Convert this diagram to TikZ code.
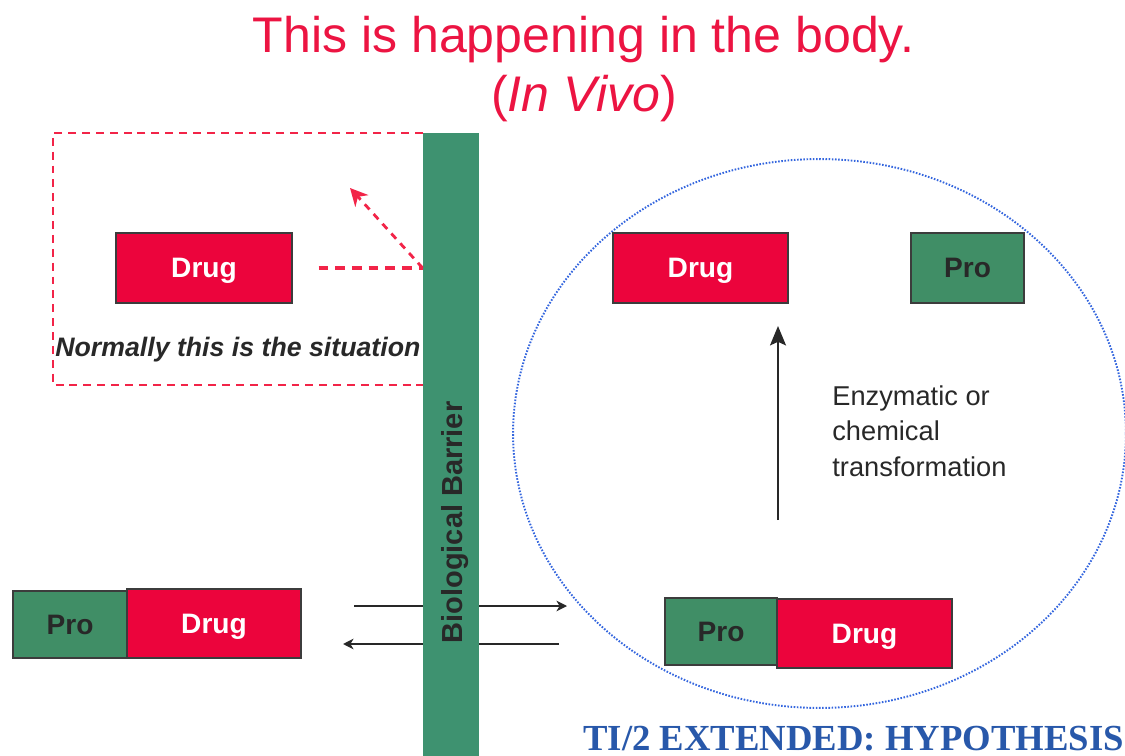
\documentclass[tikz,border=0pt]{standalone}
\usepackage{fontspec}
\setmainfont{Liberation Sans}
\newfontfamily\titleserif{Liberation Serif}
\usetikzlibrary{arrows.meta}
\definecolor{boxred}{RGB}{236,4,60}
\definecolor{titlered}{RGB}{236,20,66}
\definecolor{dashred}{RGB}{242,36,72}
\definecolor{bargreen}{RGB}{62,146,112}
\definecolor{progreen}{RGB}{64,142,102}
\definecolor{boxline}{RGB}{60,60,60}
\definecolor{darktext}{RGB}{40,40,40}
\definecolor{dotblue}{RGB}{52,102,222}
\definecolor{hypblue}{RGB}{40,88,170}
\begin{document}
\begin{tikzpicture}[x=0.02cm,y=-0.02cm,
  box/.style={draw=boxline, line width=0.8pt, inner sep=0pt, text depth=0pt,
    font=\fontsize{16}{19}\selectfont\bfseries},
  drugbox/.style={box, fill=boxred, text=white},
  probox/.style={box, fill=progreen, text=darktext},
  regiondash/.style={draw=dashred, line width=1.1pt, dash pattern=on 4.5pt off 3.4pt},
  bounce/.style={draw=dashred, line width=2.2pt, dash pattern=on 5.5pt off 4pt},
  bounceArrow/.style={draw=dashred, line width=1.6pt, dash pattern=on 4pt off 3.5pt,
    -{Stealth[length=10pt,width=10pt]}},
  flow/.style={draw=darktext, line width=1pt, -{Stealth[length=6pt,width=6pt,inset=1.8pt]}},
  convert/.style={draw=darktext, line width=1.4pt, -{Stealth[length=11pt,width=9pt,inset=2pt]}},
  bluedots/.style={draw=dotblue, line width=1.1pt, dash pattern=on 0.9pt off 0.9pt}
]
\useasboundingbox (0,0) rectangle (1125,756);
\clip (0,0) rectangle (1125,756);

% title
\node[anchor=base, text=titlered, font=\fontsize{28.5}{34}\selectfont, inner sep=0pt]
  (title) at (583.5,53) {This is happening in the body.};
\node[anchor=base, text=titlered, font=\fontsize{28.5}{34}\selectfont, inner sep=0pt]
  (invivo) at (584,112) {(\textit{In Vivo})};

% normal situation region
\draw[regiondash] (423,133) -- (53,133) -- (53,385) -- (423,385);
\node[drugbox, minimum width=3.52cm, minimum height=1.40cm] (drugA) at (204,268) {Drug};
\node[anchor=base west, inner sep=0pt, text=darktext,
  font=\fontsize{15.2}{18}\selectfont\bfseries\itshape] (normal) at (55,357)
  {Normally this is the situation};

% crossing arrows (drawn before the barrier, which covers them)
\coordinate (inL) at (354,606);
\coordinate (inR) at (567,606);
\coordinate (outR) at (559,644);
\coordinate (outL) at (343,644);
\draw[flow] (inL) -- (inR);
\draw[flow] (outR) -- (outL);

% barrier
\node[fill=bargreen, inner sep=0pt, minimum width=1.12cm, minimum height=12.46cm]
  (bar) at (451,444.5) {};
\node[rotate=90, anchor=base, inner sep=0pt, text=darktext,
  font=\fontsize{16.5}{20}\selectfont\bfseries] (barlabel) at (462.5,522.5)
  {Biological Barrier};

% bounce off the barrier
\coordinate (hit) at (bar.west |- drugA.east);
\coordinate (back) at (350,188);
\draw[bounce, shorten <=14.7pt] (drugA.east) -- (hit);
\draw[bounceArrow] (hit) -- (back);

% in vivo region
\draw[bluedots] (819.5,433.5) ellipse [x radius=6.13cm, y radius=5.49cm];
\node[drugbox, minimum width=3.50cm, minimum height=1.40cm] (drugB) at (700.5,268) {Drug};
\node[probox, minimum width=2.26cm, minimum height=1.40cm] (proB) at (967.5,268) {Pro};

\coordinate (convStart) at (778,520);
\coordinate (convEnd) at (778,326);
\draw[convert] (convStart) -- (convEnd);
\node[anchor=north west, align=left, inner sep=0pt, text=darktext,
  font=\fontsize{15.5}{20.4}\selectfont] (enz) at (832,385)
  {Enzymatic or\\chemical\\transformation};

\node[probox, minimum width=2.24cm, minimum height=1.34cm] (proC) at (721,631.5) {Pro};
\node[drugbox, minimum width=3.50cm, minimum height=1.38cm] (drugC) at (864.5,633.5) {Drug};

% prodrug outside
\node[probox, minimum width=2.28cm, minimum height=1.34cm] (proL) at (70,624.5) {Pro};
\node[drugbox, minimum width=3.48cm, minimum height=1.38cm] (drugL) at (214,623.5) {Drug};

% footer
\node[anchor=base west, inner sep=0pt, text=hypblue,
  font=\titleserif\fontsize{20.9}{24}\selectfont\bfseries] (hyp) at (583,750)
  {TI/2 EXTENDED: HYPOTHESIS};
\end{tikzpicture}
\end{document}
